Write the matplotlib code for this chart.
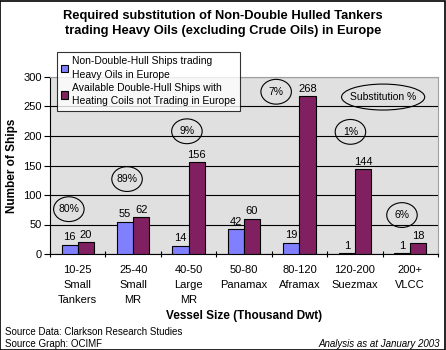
import matplotlib
matplotlib.use("Agg")
import matplotlib.pyplot as plt
from matplotlib.patches import Ellipse, Rectangle
from matplotlib import font_manager
import numpy as np

categories = ["10-25\nSmall\nTankers", "25-40\nSmall\nMR", "40-50\nLarge\nMR", "50-80\nPanamax",
              "80-120\nAframax", "120-200\nSuezmax", "200+\nVLCC"]
non_double = [16, 55, 14, 42, 19, 1, 1]
double_avail = [20, 62, 156, 60, 268, 144, 18]
series_names = ["Non-Double-Hull Ships trading\nHeavy Oils in Europe",
                "Available Double-Hull Ships with\nHeating Coils not Trading in Europe"]
subst_labels = ["80%", "89%", "9%", "7%", "1%", "6%"]
subst_pos = [(-0.16, 76), (0.89, 127), (1.97, 208), (3.58, 275), (4.92, 207), (5.85, 66)]

names = {f.name for f in font_manager.fontManager.ttflist}
base = "Liberation Sans" if "Liberation Sans" in names else "DejaVu Sans"
plt.rcParams['font.family'] = [base, 'DejaVu Sans']

fig = plt.figure(figsize=(4.46, 3.5), dpi=100)
ax = fig.add_axes([50/446, 96/350, 388/446, 177/350])
ax.set_facecolor("#E0E0E0")

x = np.arange(len(categories))
w = 0.29
b1 = ax.bar(x - w/2, non_double, w, color="#8080FF", edgecolor="black", linewidth=0.8, label=series_names[0], zorder=3)
b2 = ax.bar(x + w/2, double_avail, w, color="#802060", edgecolor="black", linewidth=0.8, label=series_names[1], zorder=3)
for bars in (b1, b2):
    for r in bars:
        ax.text(r.get_x() + r.get_width()/2, r.get_height() + 4, f"{int(r.get_height())}",
                ha="center", va="bottom", fontsize=8, zorder=4)

ax.set_xlim(-0.5, len(categories) - 0.5)
ax.set_ylim(0, 300)
ax.set_yticks(range(0, 301, 50))
ax.yaxis.grid(True, color="black", linewidth=0.8, zorder=1)
ax.set_axisbelow(True)
ax.set_xticks(x)
ax.set_xticklabels(categories, fontsize=8, linespacing=1.6)
ax.tick_params(axis="x", length=0, pad=8)
ax.set_xticks(np.arange(-0.5, len(categories), 1), minor=True)
ax.tick_params(axis="x", which="minor", length=4, direction="inout", width=0.8)
ax.tick_params(axis="y", length=4, labelsize=8, width=0.8, pad=2)
for s in ("top", "right"):
    ax.spines[s].set_color("#A0A0A0")
for s in ("left", "bottom"):
    ax.spines[s].set_color("black")
    ax.spines[s].set_linewidth(0.8)

ax.set_ylabel("Number of Ships", fontsize=8.5, fontweight="bold", labelpad=4)
ax.set_xlabel("Vessel Size (Thousand Dwt)", fontsize=8.5, fontweight="bold", labelpad=4)

for lab, (px, py) in zip(subst_labels, subst_pos):
    ax.add_patch(Ellipse((px, py), 0.55, 42, facecolor="none", edgecolor="black", linewidth=0.8, zorder=5))
    ax.text(px, py, lab, ha="center", va="center", fontsize=7.5, zorder=6)
ax.add_patch(Ellipse((5.51, 266), 1.5, 44, facecolor="none", edgecolor="black", linewidth=0.8, zorder=5))
ax.text(5.51, 266, "Substitution %", ha="center", va="center", fontsize=7.5, zorder=6)

leg = fig.legend(handles=[b1, b2], loc="upper left", bbox_to_anchor=(57/446, 1 - 52/350),
                 fontsize=7.5, frameon=True, fancybox=False, handlelength=0.7, handleheight=0.7,
                 handletextpad=0.3, borderpad=0.4, labelspacing=0.3, borderaxespad=0)
for t in leg.get_texts():
    t.set_linespacing(1.45)
leg.get_frame().set_edgecolor("black")
leg.get_frame().set_linewidth(0.8)
leg.set_zorder(10)

fig.text(0.5, 1 - 10/350, "Required substitution of Non-Double Hulled Tankers\ntrading Heavy Oils (excluding Crude Oils) in Europe",
         ha="center", va="top", fontsize=9.3, fontweight="bold", linespacing=1.3)
fig.text(5/446, 1 - 332/350, "Source Data: Clarkson Research Studies", fontsize=7, va="center")
fig.text(5/446, 1 - 344/350, "Source Graph: OCIMF", fontsize=7, va="center")
fig.text(440/446, 1 - 344/350, "Analysis as at January 2003", fontsize=7, va="center", ha="right", style="italic")

fig.add_artist(Rectangle((0.001, 0.001), 0.997, 0.996, transform=fig.transFigure, fill=False,
                         edgecolor="black", linewidth=1.2))

fig.savefig("out.png", dpi=100)
